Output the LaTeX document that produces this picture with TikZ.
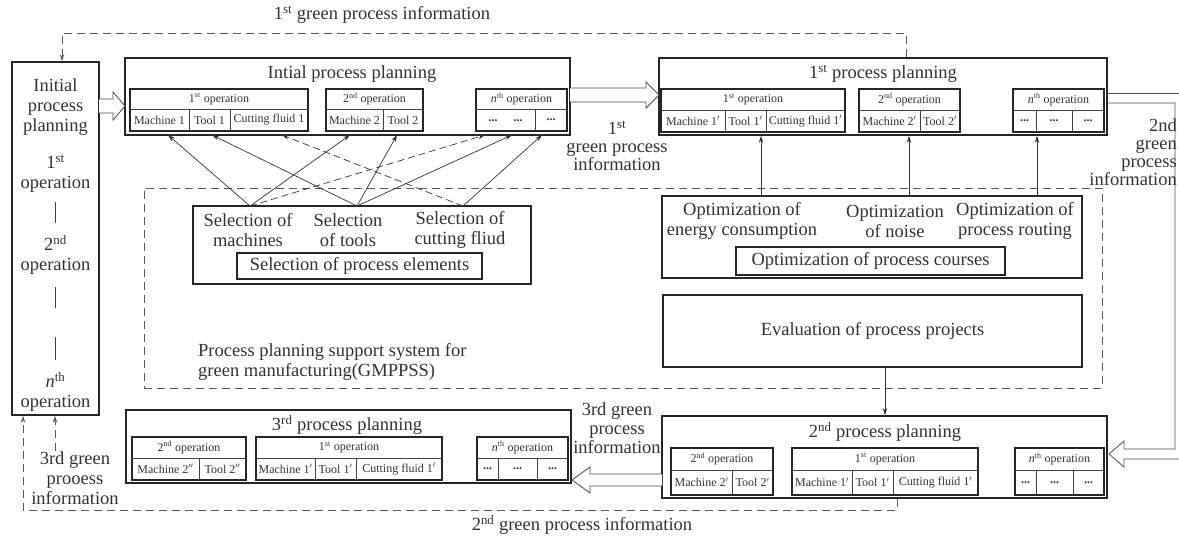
\documentclass[tikz,border=0pt]{standalone}
\usepackage{fontspec}
\setmainfont{Liberation Serif}
\usetikzlibrary{arrows.meta,fit}
\newcommand\bigf{\fontsize{18.5}{20}\selectfont}
\newcommand\smf{\fontsize{12}{13}\selectfont}
\newcommand\sups[1]{\textsuperscript{#1}}
\newcommand\ellip{\textbf{...}}

\tikzset{
  plan/.style={draw=black!85, line width=1.8pt, inner sep=0pt},
  opfr/.style={draw=black!85, line width=1.3pt},
  div/.style={draw=black!75, line width=0.6pt},
  elem/.style={draw=black!85, line width=1.4pt, inner sep=0pt},
  big/.style={font=\bigf, text=black!80, align=center, inner sep=0pt},
  sm/.style={font=\smf, text=black!80, inner sep=0pt},
  link/.style={draw=black!80, line width=0.7pt, -{Stealth[length=7pt,width=4.5pt]}},
  dlink/.style={link, dash pattern=on 7pt off 4pt},
  fb/.style={draw=black!65, line width=0.9pt, dash pattern=on 8pt off 5pt},
  fbarrow/.style={fb, -{Stealth[length=7pt,width=4.5pt]}},
  hollow/.style={draw=black!70, line width=0.8pt, fill=white},
}

% operation frame: name, x1, x2, ytop, ymid, ybot, header
\newcommand\opbox[7]{%
  \draw[opfr] (#2,#4) rectangle (#3,#6);
  \draw[div] (#2,#5) -- (#3,#5);
  \node[sm] (#1) at ({(#2+#3)/2},{(#4+#5)/2}) {#7};}
% cell text: name, x1, x2, ymid, ybot, text
\newcommand\opcell[6]{\node[sm] (#1) at ({(#2+#3)/2},{(#4+#5)/2}) {#6};}
% vertical divider: x, ytop, ybot
\newcommand\opdiv[3]{\draw[div] (#1,#2) -- (#1,#3);}

\begin{document}
\begin{tikzpicture}[x=1pt,y=-1pt]
\useasboundingbox (0,0) rectangle (1179,539);

% ---------- left column ----------
\node[plan, line width=1.5pt, fit={(12,62)(99,415)}] (left) {};
\node[big] (l0) at (55.5,107) {Initial\\process\\planning};
\node[big, align=center] (l1) at (55.5,174) {1\sups{st}\\operation};
\node[big] (l2) at (55.5,255) {2\sups{nd}\\operation};
\node[big] (l3) at (55.5,392) {\textit{n}\sups{th}\\operation};
\draw[div, line width=0.9pt] (55.5,202) -- (55.5,223);
\draw[div, line width=0.9pt] (55.5,287) -- (55.5,308);
\draw[div, line width=0.9pt] (55.5,337) -- (55.5,360);

% ---------- initial process planning ----------
\node[plan, fit={(125,58)(570,135)}] (ipp) {};
\node[big] (ippt) at (352,74) {Intial process planning};
\opbox{i1}{130}{308}{89}{109}{131}{1\sups{st} operation}
\opcell{i1a}{130}{189}{109}{131}{Machine 1}\opdiv{189}{109}{131}
\opcell{i1b}{189}{230}{109}{131}{Tool 1}\opdiv{230}{109}{131}
\opcell{i1c}{230}{308}{109}{131}{Cutting fluid 1}
\opbox{i2}{326}{423}{89}{109}{131}{2\sups{nd} operation}
\opcell{i2a}{326}{383}{109}{131}{Machine 2}\opdiv{383}{109}{131}
\opcell{i2b}{383}{423}{109}{131}{Tool 2}
\opbox{in}{476}{567}{89}{109}{131}{\textit{n}\sups{th} operation}
\node[sm] (ina) at (493,121) {\ellip};
\node[sm] (inb) at (518,121) {\ellip};
\opdiv{535}{109}{131}
\opcell{inc}{535}{567}{109}{131}{\ellip}

% ---------- 1st process planning ----------
\node[plan, fit={(659,58)(1107,135)}] (p1) {};
\node[big] (p1t) at (883,74) {1\sups{st} process planning};
\opbox{a1}{661}{845}{89}{110}{132}{1\sups{st} operation}
\opcell{a1a}{661}{725}{110}{132}{Machine 1$'$}\opdiv{725}{110}{132}
\opcell{a1b}{725}{766}{110}{132}{Tool 1$'$}\opdiv{766}{110}{132}
\opcell{a1c}{766}{845}{110}{132}{Cutting fluid 1$'$}
\opbox{a2}{859}{960}{89}{110}{132}{2\sups{nd} operation}
\opcell{a2a}{859}{920}{110}{132}{Machine 2$'$}\opdiv{920}{110}{132}
\opcell{a2b}{920}{960}{110}{132}{Tool 2$'$}
\opbox{an}{1013}{1104}{89}{110}{132}{\textit{n}\sups{th} operation}
\opcell{ana}{1013}{1036}{110}{132}{\ellip}\opdiv{1036}{110}{132}
\opcell{anb}{1036}{1072}{110}{132}{\ellip}\opdiv{1072}{110}{132}
\opcell{anc}{1072}{1104}{110}{132}{\ellip}

% ---------- 2nd process planning ----------
\node[plan, fit={(662,416)(1107,498)}] (p2) {};
\node[big] (p2t) at (885,432) {2\sups{nd} process planning};
\opbox{b2}{671}{773}{448}{470}{495}{2\sups{nd} operation}
\opcell{b2a}{671}{732}{470}{495}{Machine 2$'$}\opdiv{732}{470}{495}
\opcell{b2b}{732}{773}{470}{495}{Tool 2$'$}
\opbox{b1}{792}{978}{448}{470}{495}{1\sups{st} operation}
\opcell{b1a}{792}{852}{470}{495}{Machine 1$'$}\opdiv{852}{470}{495}
\opcell{b1b}{852}{893}{470}{495}{Tool 1$'$}\opdiv{893}{470}{495}
\opcell{b1c}{893}{978}{470}{495}{Cutting fluid 1$'$}
\opbox{bn}{1015}{1104}{448}{470}{495}{\textit{n}\sups{th} operation}
\opcell{bna}{1015}{1036}{470}{495}{\ellip}\opdiv{1036}{470}{495}
\opcell{bnb}{1036}{1073}{470}{495}{\ellip}\opdiv{1073}{470}{495}
\opcell{bnc}{1073}{1104}{470}{495}{\ellip}

% ---------- 3rd process planning ----------
\node[plan, fit={(126,410)(571,483)}] (p3) {};
\node[big] (p3t) at (347,425) {3\sups{rd} process planning};
\opbox{c2}{132}{246}{437}{458}{480}{2\sups{nd} operation}
\opcell{c2a}{132}{199}{458}{480}{Machine 2$''$}\opdiv{199}{458}{480}
\opcell{c2b}{199}{246}{458}{480}{Tool 2$''$}
\opbox{c1}{256}{442}{437}{458}{480}{1\sups{st} operation}
\opcell{c1a}{256}{315}{458}{480}{Machine 1$'$}\opdiv{315}{458}{480}
\opcell{c1b}{315}{356}{458}{480}{Tool 1$'$}\opdiv{356}{458}{480}
\opcell{c1c}{356}{442}{458}{480}{Cutting fluid 1$'$}
\opbox{cn}{477}{568}{437}{458}{480}{\textit{n}\sups{th} operation}
\opcell{cna}{477}{498}{458}{480}{\ellip}\opdiv{498}{458}{480}
\opcell{cnb}{498}{537}{458}{480}{\ellip}\opdiv{537}{458}{480}
\opcell{cnc}{537}{568}{458}{480}{\ellip}

% ---------- support system ----------
\node[fb, inner sep=0pt, fit={(144,188)(1102,388)}] (gm) {};
\node[big, align=left, anchor=west] (gmt) at (198,362) {Process planning support system for\\green manufacturing(GMPPSS)};

\node[elem, fit={(193,206)(531,284)}] (sel) {};
\node[big] (selm) at (248,230) {Selection of\\machines};
\node[big] (selt) at (348,230) {Selection\\of tools};
\node[big] (self) at (460,230) {Selection of\\cutting fliud};
\node[elem, fit={(237,253)(482,279)}] (sele) {};
\node[big] (selet) at (359.5,266) {Selection of process elements};

\node[elem, fit={(662,196)(1082,278)}] (opt) {};
\node[big] (opte) at (742,221) {Optimization of\\energy consumption};
\node[big] (optn) at (895,221) {Optimization\\of noise};
\node[big] (optr) at (1015,221) {Optimization of\\process routing};
\node[elem, fit={(736,247)(1005,275)}] (optc) {};
\node[big] (optct) at (870.5,261) {Optimization of process courses};

\node[elem, fit={(663,295)(1082,367)}] (ev) {};
\node[big] (evt) at (872.5,331) {Evaluation of process projects};

% ---------- element selection links ----------
\coordinate (sM) at (250,206);
\coordinate (sT) at (357,206);
\coordinate (sF) at (463,206);
\coordinate (tM1) at (168,135);
\coordinate (tT1) at (212,135);
\coordinate (tF1) at (282,135);
\coordinate (tM2) at (350,135);
\coordinate (tT2) at (397,135);
\coordinate (tN1) at (485,135);
\coordinate (tN2) at (512,135);
\coordinate (tN3) at (542,135);
\draw[link] (sM) -- (tM1);
\draw[link] (sM) -- (tM2);
\draw[dlink] (sM) -- (tN1);
\draw[link] (sT) -- (tT1);
\draw[link] (sT) -- (tT2);
\draw[link] (sT) -- (tN2);
\draw[dlink] (sF) -- (tF1);
\draw[link] (sF) -- (tN3);

% ---------- optimization links ----------
\coordinate (oE) at (761,196);
\coordinate (oN) at (909,196);
\coordinate (oR) at (1037,196);
\draw[link] (oE) -- (p1.south -| oE);
\draw[link] (oN) -- (p1.south -| oN);
\draw[link] (oR) -- (p1.south -| oR);
\coordinate (evx) at (885,367);
\draw[link] (evx) -- (p2.north -| evx);

% ---------- hollow flow arrows ----------
\draw[hollow] (99,99) -- (113,99) -- (113,92) -- (125,106) -- (113,120) -- (113,113) -- (99,113);
\draw[hollow] (570,88) -- (646,88) -- (646,82) -- (659,95) -- (646,108) -- (646,102) -- (570,102);
\draw[hollow] (662,474) -- (590,474) -- (590,467) -- (572,480) -- (590,493) -- (590,486) -- (662,486);
\draw[hollow, fill=none] (1107,93) -- (1190,93);
\draw[hollow, fill=none] (1107,103) -- (1175,103) -- (1175,449) -- (1124,449) -- (1124,441)
  -- (1109,454) -- (1124,467) -- (1124,459) -- (1190,459);

% ---------- green information feedback ----------
\coordinate (topc) at (906,33);
\coordinate (topl) at (62,33);
\draw[fbarrow] (p1.north -| topc) -- (topc) -- (topl) -- (left.north -| topl);
\coordinate (botc) at (897,510);
\coordinate (botl) at (23,510);
\draw[fbarrow] (p2.south -| botc) -- (botc) -- (botl) -- (left.south -| botl);

% ---------- labels ----------
\node[big] (lab1) at (382,15) {1\sups{st} green process information};
\node[big, font=\fontsize{18.5}{18}\selectfont] (lab2) at (617,146) {1\sups{st}\\green process\\information};
\node[big, align=right, anchor=east, font=\fontsize{18.5}{18}\selectfont] (lab3) at (1177,152) {2nd\\green\\process\\information};
\node[big, font=\fontsize{18.5}{19}\selectfont] (lab4) at (617,428) {3rd green\\process\\information};
\node[big] (lab5) at (75,478) {3rd green\\prooess\\information};
\node[big] (lab6) at (582,525) {2\sups{nd} green process information};
\coordinate (l5x) at (55,0);
\draw[fbarrow] (lab5.north -| l5x) -- (left.south -| l5x);
\end{tikzpicture}
\end{document}
